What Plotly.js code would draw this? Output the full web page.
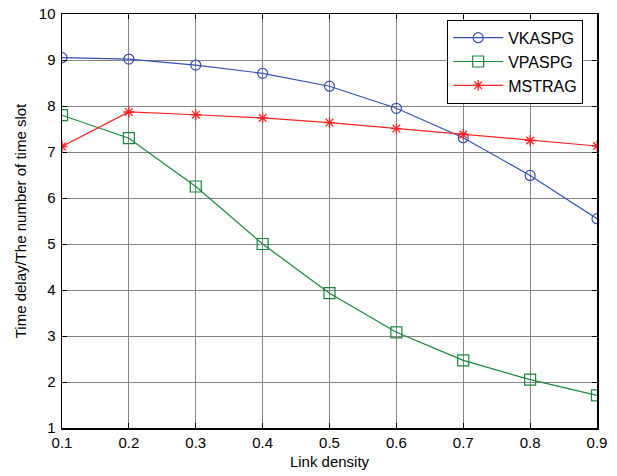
<!DOCTYPE html>
<html>
<head>
<meta charset="utf-8">
<script src="https://cdn.plot.ly/plotly-3.0.1.min.js"></script>
<style>html,body{margin:0;padding:0;background:#fff;}#chart{width:617px;height:476px;}</style>
</head>
<body>
<div id="chart"></div>
<script>
const linkDensity = [0.1, 0.2, 0.3, 0.4, 0.5, 0.6, 0.7, 0.8, 0.9];
const vkaspg = [9.05, 9.02, 8.89, 8.71, 8.43, 7.95, 7.31, 6.49, 5.55];
const vpaspg = [7.80, 7.30, 6.25, 5.00, 3.93, 3.08, 2.47, 2.05, 1.71];
const mstrag = [7.12, 7.87, 7.81, 7.74, 7.64, 7.51, 7.38, 7.25, 7.13];
const xTicks = [0.1, 0.2, 0.3, 0.4, 0.5, 0.6, 0.7, 0.8, 0.9];
const yTicks = [1, 2, 3, 4, 5, 6, 7, 8, 9, 10];

const traces = [
  {x: linkDensity, y: vkaspg, name: 'VKASPG', mode: 'lines+markers',
   line: {color: '#3550b0', width: 1.2},
   marker: {symbol: 'circle-open', size: 10, color: '#3550b0', line: {width: 1.2}}},
  {x: linkDensity, y: vpaspg, name: 'VPASPG', mode: 'lines+markers',
   line: {color: '#17873c', width: 1.2},
   marker: {symbol: 'square-open', size: 11, color: '#17873c', line: {width: 1.2}}},
  {x: linkDensity, y: mstrag, name: 'MSTRAG', mode: 'lines+markers',
   line: {color: '#ff2424', width: 1.2},
   marker: {symbol: 'asterisk-open', size: 9, color: '#ff2424', line: {width: 1.3, color: '#ff2424'}}}
];

const axisCommon = {
  showline: true, linecolor: '#000', linewidth: 1.5, mirror: 'ticks',
  ticks: 'inside', ticklen: 5, tickcolor: '#000', tickwidth: 1,
  showgrid: true, gridcolor: '#858585', gridwidth: 1, zeroline: false,
  tickfont: {family: 'Liberation Sans, Arial, sans-serif', size: 15, color: '#000'}
};

const layout = {
  width: 617, height: 476,
  margin: {l: 62, r: 20, t: 14, b: 48},
  paper_bgcolor: '#fff', plot_bgcolor: '#fff',
  font: {family: 'Liberation Sans, Arial, sans-serif', color: '#000'},
  showlegend: true,
  legend: {x: 0.72, y: 0.986, xanchor: 'left', yanchor: 'top',
    bgcolor: '#fff', bordercolor: '#000', borderwidth: 1, itemwidth: 50,
    font: {size: 16, family: 'Liberation Sans, Arial, sans-serif', color: '#000'}},
  xaxis: Object.assign({}, axisCommon, {
    range: [0.1, 0.9], tickvals: xTicks, ticktext: xTicks.map(v => v.toFixed(1)),
    title: {text: 'Link density', font: {size: 15}, standoff: 7}
  }),
  yaxis: Object.assign({}, axisCommon, {
    range: [1, 10], tickvals: yTicks, ticktext: yTicks.map(String), ticklabelstandoff: 2,
    title: {text: 'Time delay/The number of time slot', font: {size: 15}, standoff: 8}
  })
};

Plotly.newPlot('chart', traces, layout, {displayModeBar: false, staticPlot: true});
</script>
</body>
</html>
